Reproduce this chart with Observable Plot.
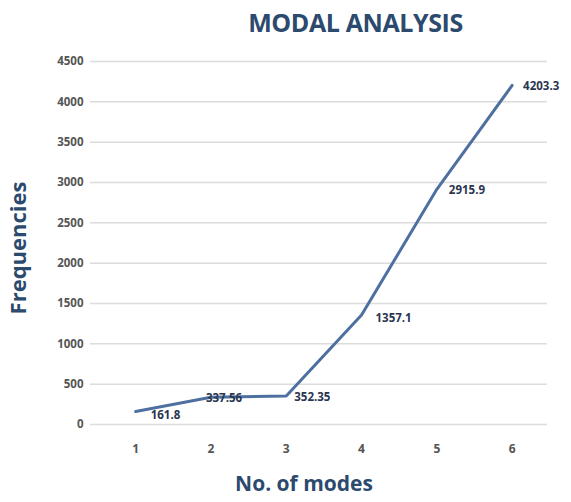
<!DOCTYPE html>
<html>
<head>
<meta charset="utf-8">
<script src="https://cdn.jsdelivr.net/npm/d3@7"></script>
<script src="https://cdn.jsdelivr.net/npm/@observablehq/plot@0.6"></script>
<style>
  body { margin: 0; background: #fff; font-family: "Open Sans", sans-serif; }
  #title { height: 45px; text-align: center; font-weight: bold; font-size: 25px; color: #2b4a6e; line-height: 44px; padding-left: 140px; box-sizing: border-box; width: 571px; letter-spacing: -0.4px; }
</style>
</head>
<body>
<div id="title">MODAL ANALYSIS</div>
<div id="chart"></div>
<script>
const modes = [1, 2, 3, 4, 5, 6];
const frequencies = [161.8, 337.56, 352.35, 1357.1, 2915.9, 4203.3];
const labels = ["161.8", "337.56", "352.35", "1357.1", "2915.9", "4203.3"];
const yTicks = [0, 500, 1000, 1500, 2000, 2500, 3000, 3500, 4000, 4500];

const data = modes.map((m, i) => ({mode: m, freq: frequencies[i], label: labels[i]}));

const labelStyle = {fill: "#2a3550", fontSize: 11.5, fontWeight: "bold", textAnchor: "start"};
const textOpts = (idx, dx, dy) => ({
  filter: (d, i) => idx.includes(i),
  x: "mode", y: "freq", text: "label", dx, dy, ...labelStyle
});

const chart = Plot.plot({
  width: 571,
  height: 457,
  marginLeft: 90,
  marginRight: 24,
  marginTop: 16,
  marginBottom: 78,
  style: {fontFamily: "Open Sans, sans-serif", background: "#fff"},
  x: {domain: [0.4, 6.47], label: null},
  y: {domain: [0, 4500], label: null},
  marks: [
    Plot.ruleY(yTicks, {stroke: "#dcdcdc", strokeWidth: 1.5}),
    Plot.axisX({ticks: modes, tickFormat: d => String(d), tickSize: 0, tickPadding: 20, fontSize: 12, fontWeight: "bold", fill: "#555", label: null}),
    Plot.axisY({ticks: yTicks, tickFormat: d => String(d), tickSize: 0, tickPadding: 7, fontSize: 11.5, fontWeight: "bold", fill: "#555", label: null}),
    Plot.line(data, {x: "mode", y: "freq", stroke: "#4e70a0", strokeWidth: 3}),
    Plot.text(data, textOpts([0], 15, 4)),
    Plot.text(data, textOpts([1], -5, 1)),
    Plot.text(data, textOpts([2], 8, 1)),
    Plot.text(data, textOpts([3], 14, 3)),
    Plot.text(data, textOpts([4], 12, 1)),
    Plot.text(data, textOpts([5], 11, 1)),
    Plot.text(["No. of modes"], {frameAnchor: "bottom", dx: -15, dy: 66, fontSize: 21, fontWeight: "bold", fill: "#2b4a6e"}),
    Plot.text(["Frequencies"], {frameAnchor: "left", textAnchor: "middle", dx: -72, dy: 5, rotate: -90, fontSize: 22, fontWeight: "bold", fill: "#2b4a6e"})
  ]
});
document.getElementById("chart").appendChild(chart);
</script>
</body>
</html>
